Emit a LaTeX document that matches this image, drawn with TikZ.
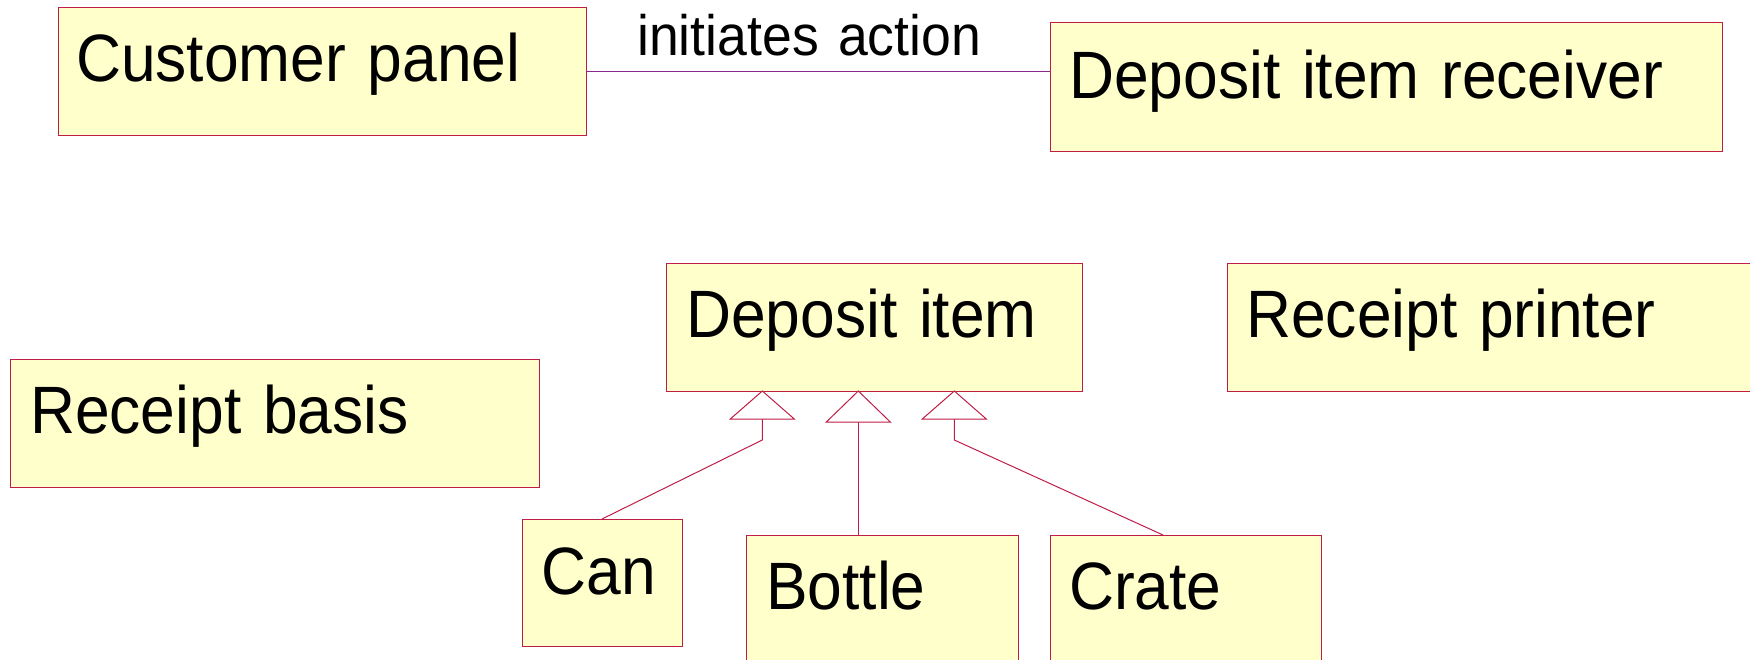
\documentclass[tikz,border=0pt]{standalone}
\usepackage{fontspec}
\setmainfont[FakeStretch=0.93,WordSpace=1.25]{Liberation Sans}
\newfontfamily\labelfont[FakeStretch=0.94,WordSpace=1.3]{Liberation Sans}
\definecolor{boxfill}{RGB}{255,255,204}
\definecolor{boxline}{RGB}{190,30,70}
\definecolor{assocline}{RGB}{140,40,140}
\begin{document}
\begin{tikzpicture}[x=1pt,y=-1pt,
  classbox/.style={draw=boxline, fill=boxfill, line width=1pt, inner sep=0pt, outer sep=0pt, anchor=north west},
  classname/.style={inner sep=0pt, anchor=base west, font=\fontsize{67}{67}\selectfont},
  assoclabel/.style={inner sep=0pt, anchor=base west, font=\labelfont\fontsize{57}{57}\selectfont},
  gen/.style={draw=boxline, line width=1pt},
  gentri/.style={draw=boxline, fill=white, line width=1pt},
  assoc/.style={draw=assocline, line width=1pt}]
\useasboundingbox (0,0) rectangle (1750,659);
% boxes
\node[classbox, minimum width=528, minimum height=128] (cp) at (58,7) {};
\node[classbox, minimum width=672, minimum height=129] (dir) at (1050,22) {};
\node[classbox, minimum width=416, minimum height=127.5] (di) at (666,263.5) {};
\node[classbox, minimum width=560, minimum height=127.5] (rp) at (1227,263.5) {};
\node[classbox, minimum width=529, minimum height=127.5] (rb) at (10,359.5) {};
\node[classbox, minimum width=160, minimum height=127] (can) at (522,519) {};
\node[classbox, minimum width=272, minimum height=140] (bottle) at (746.5,535) {};
\node[classbox, minimum width=271.5, minimum height=140] (crate) at (1050,535) {};
% texts
\node[classname] (tcp) at (76,81.5) {Customer panel};
\node[classname] (tdir) at (1069,98) {Deposit item receiver};
\node[classname] (tdi) at (686,337) {Deposit item};
\node[classname] (trp) at (1246,337) {Receipt printer};
\node[classname] (trb) at (30,433) {Receipt basis};
\node[classname] (tcan) at (541.5,594) {Can};
\node[classname] (tbottle) at (766,609) {Bottle};
\node[classname] (tcrate) at (1069,609) {Crate};
% association
\draw[assoc] (cp.east) -- (cp.east -| dir.west);
\node[assoclabel] (lbl) at (637,55) {initiates action};
% generalizations
\coordinate (a1) at (762.3,391);
\coordinate (a2) at (858.3,391);
\coordinate (a3) at (954.3,391);
\coordinate (b1) at (762.3,419);
\coordinate (b2) at (858.3,422);
\coordinate (b3) at (954.3,419);
\coordinate (k1) at (762.3,440);
\coordinate (k3) at (954.3,440);
\coordinate (crtop) at (1163,535);
\draw[gen] (b1) -- (k1) -- (can.north);
\draw[gen] (b2) -- (b2 |- bottle.north);
\draw[gen] (b3) -- (k3) -- (crtop);
\draw[gentri] (a1) -- (762.3-32,419) -- (762.3+32,419) -- cycle;
\draw[gentri] (a2) -- (858.3-32,422) -- (858.3+32,422) -- cycle;
\draw[gentri] (a3) -- (954.3-32,419) -- (954.3+32,419) -- cycle;
\end{tikzpicture}
\end{document}
